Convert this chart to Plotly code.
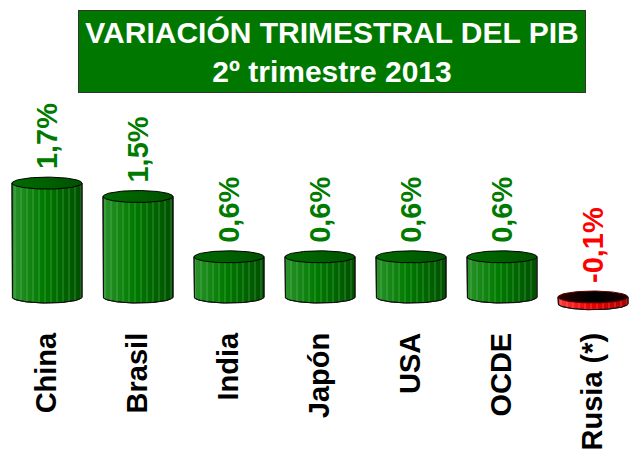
import numpy as np
import plotly.graph_objects as go

categories = ["China", "Brasil", "India", "Japón", "USA", "OCDE", "Rusia (*)"]
values = [1.7, 1.5, 0.6, 0.6, 0.6, 0.6, -0.1]
value_labels = ["1,7%", "1,5%", "0,6%", "0,6%", "0,6%", "0,6%", "-0,1%"]
title_lines = ["VARIACIÓN TRIMESTRAL DEL PIB", "2º trimestre 2013"]

FONT = "Liberation Sans, Arial, sans-serif"
W, H = 630, 450
PLOT_H = 326
X_RANGE = [-0.5165, 6.4065]
Y_RANGE = [4.433 - PLOT_H / 67.0, 4.433]

px_per_x = W / (X_RANGE[1] - X_RANGE[0])
px_per_y = PLOT_H / (Y_RANGE[1] - Y_RANGE[0])
rx = 35 / px_per_x
ry = 6 / px_per_y

fig = go.Figure()
t = np.linspace(0, np.pi, 60)

for i, v in enumerate(values):
    top = max(v, 0)
    bot = min(v, 0)
    pos = v >= 0
    bx = np.concatenate([[i - rx], i - rx * np.cos(t), [i + rx, i - rx]])
    by = np.concatenate([[top], bot - ry * np.sin(t), [top, top]])
    if pos:
        grad = [[0, "#2a922a"], [0.45, "#007a00"], [1, "#004f00"]]
        stripe = "rgba(150,225,150,0.6)"
    else:
        grad = [[0, "#ff3b3b"], [0.45, "#f00000"], [1, "#b00000"]]
        stripe = "rgba(255,190,190,0.6)"
    fig.add_trace(go.Scatter(
        x=bx, y=by, mode="lines", fill="toself",
        fillgradient=dict(type="horizontal", colorscale=grad),
        line=dict(color="#101010", width=1), hoverinfo="skip", showlegend=False))
    fig.add_trace(go.Scatter(
        x=bx, y=by, mode="lines", fill="toself", fillcolor="rgba(0,0,0,0)",
        fillpattern=dict(shape="|", fgcolor=stripe, bgcolor="rgba(0,0,0,0)",
                         size=6, solidity=0.18),
        line=dict(color="#101010", width=1), hoverinfo="skip", showlegend=False))
    tt = np.linspace(0, 2 * np.pi, 120)
    ex = i + rx * np.cos(tt)
    ey = top + ry * np.sin(tt)
    if pos:
        egrad = [[0, "#006a00"], [0.5, "#006000"], [1, "#005200"]]
    else:
        egrad = [[0, "#2a0000"], [0.5, "#000000"], [1, "#1a0000"]]
    fig.add_trace(go.Scatter(
        x=ex, y=ey, mode="lines", fill="toself",
        fillgradient=dict(type="horizontal", colorscale=egrad),
        line=dict(color="#000000" if pos else "#600000", width=1),
        hoverinfo="skip", showlegend=False))
    fig.add_annotation(
        x=i, y=top, xref="x", yref="y", text=f"<b>{value_labels[i]}</b>",
        textangle=-90, showarrow=False, yanchor="bottom", xanchor="center",
        yshift=12, font=dict(family=FONT, size=29,
                             color="#007a00" if pos else "#ff0000"))

fig.add_annotation(
    xref="paper", yref="paper", x=332 / W, y=1 - 52 / PLOT_H,
    text="<b>" + title_lines[0] + "<br>" + title_lines[1] + "</b>",
    showarrow=False, xanchor="center", yanchor="middle",
    width=504, height=79, bgcolor="#007800", bordercolor="#333333",
    borderwidth=1, borderpad=1,
    font=dict(family=FONT, size=30, color="white"))

fig.update_layout(
    width=W, height=H, margin=dict(l=0, r=0, t=0, b=H - PLOT_H, autoexpand=False),
    paper_bgcolor="white", plot_bgcolor="white",
    xaxis=dict(range=X_RANGE, tickvals=list(range(len(categories))),
               ticktext=[f"<b>{c}</b>" for c in categories], tickangle=-90,
               showgrid=False, zeroline=False, showline=False, ticks="",
               automargin=False,
               tickfont=dict(family=FONT, size=29, color="black"), fixedrange=True),
    yaxis=dict(range=Y_RANGE, visible=False, automargin=False, fixedrange=True),
)
fig.write_html("out.html", config={"displayModeBar": False},
               post_script="document.body.style.margin='0px';"
                           "document.body.style.overflow='hidden';")
